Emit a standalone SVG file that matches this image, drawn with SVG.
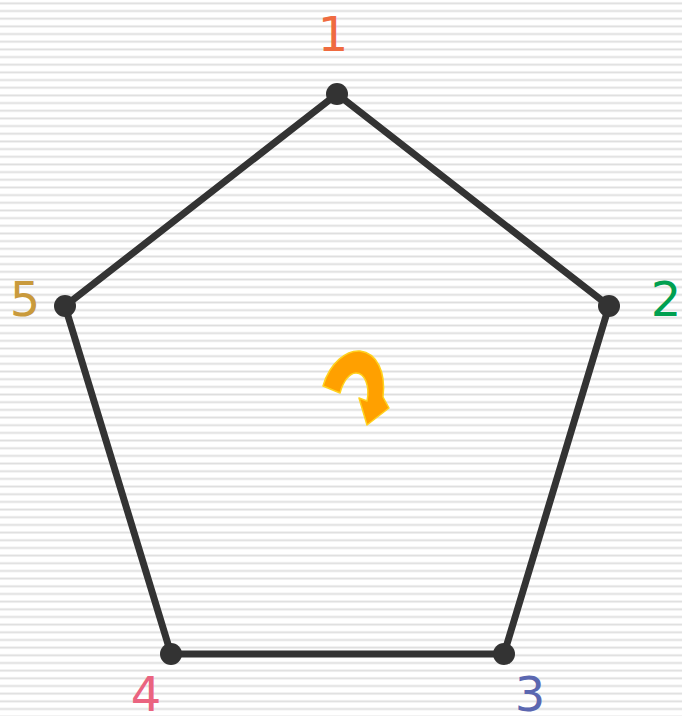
<svg xmlns="http://www.w3.org/2000/svg" width="682" height="716" viewBox="0 0 682 716">
  <defs>
    <pattern id="lines" patternUnits="userSpaceOnUse" x="0" y="0" width="682" height="7.67">
      <rect x="0" y="2.4" width="682" height="1.9" fill="#dedede"/>
    </pattern>
    <style>
      .edge { fill: none; stroke: #333333; stroke-width: 7; stroke-linejoin: round; }
      .dot { fill: #333333; }
      .lbl { font-family: "DejaVu Sans", Verdana, sans-serif; font-size: 48px; text-anchor: middle; }
    </style>
  </defs>
  <rect x="0" y="0" width="682" height="716" fill="#ffffff"/>
  <rect x="0" y="0" width="682" height="716" fill="url(#lines)"/>

  <g id="connectors">
    <polygon class="edge" points="337,94 609,306 504,654 171,654 65,306"/>
  </g>

  <g id="node1"><circle class="dot" cx="337" cy="94" r="11"/><text class="lbl" x="333" y="51" fill="#EF6B40">1</text></g>
  <g id="node2"><circle class="dot" cx="609" cy="306" r="11"/><text class="lbl" x="666" y="316" fill="#00A050">2</text></g>
  <g id="node3"><circle class="dot" cx="504" cy="654" r="11"/><text class="lbl" x="530" y="711" fill="#5B67B0">3</text></g>
  <g id="node4"><circle class="dot" cx="171" cy="654" r="11"/><text class="lbl" x="146" y="711" fill="#EA6480">4</text></g>
  <g id="node5"><circle class="dot" cx="65" cy="306" r="11"/><text class="lbl" x="25" y="316" fill="#C99A3C">5</text></g>

  <g id="rotation">
    <path d="M 323,386 C 330,362 347,350 360,351 C 377,353 386,372 383,397 L 389,408 L 367,425 L 359,398 L 367,401 C 370,386 365,373 356,373 C 349,373 343,382 340,393 Z" fill="#FFA000" stroke="#FFD21F" stroke-width="1.5" stroke-linejoin="round"/>
  </g>
</svg>
